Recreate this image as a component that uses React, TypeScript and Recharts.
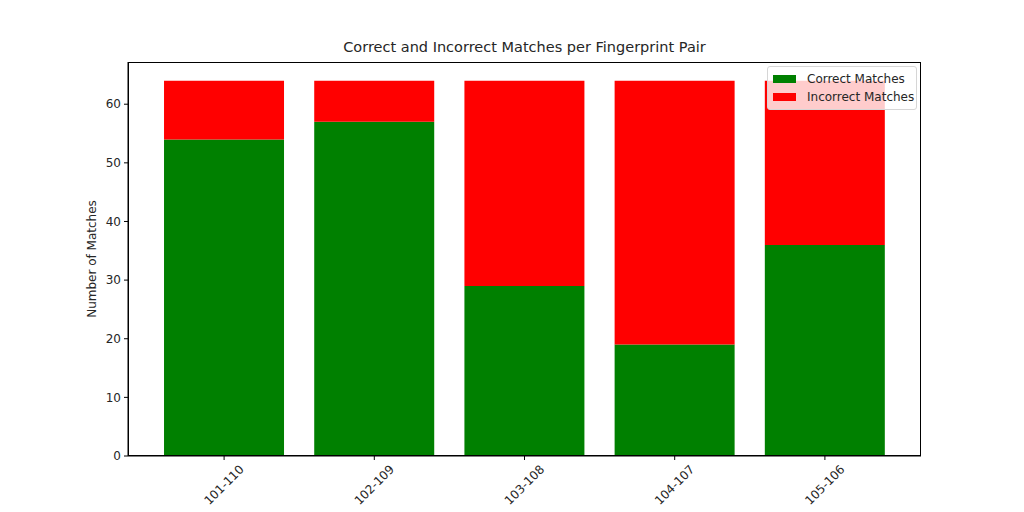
import { BarChart, Bar, XAxis, YAxis } from 'recharts'

const pairs = ['101-110', '102-109', '103-108', '104-107', '105-106']
const correctMatches = [54, 57, 29, 19, 36]
const incorrectMatches = [10, 7, 35, 45, 28]
const yTicks = [0, 10, 20, 30, 40, 50, 60]

const data = pairs.map((pair, i) => ({
  pair,
  correct: correctMatches[i],
  incorrect: incorrectMatches[i],
}))

const FONT = '"DejaVu Sans", sans-serif'
const TEXT = '#262626'

function PairTick({ x, y, payload }: any) {
  return (
    <g transform={`translate(${x},${y + 25})`}>
      <text
        transform="rotate(-45)"
        textAnchor="middle"
        dominantBaseline="central"
        fontSize={12}
        fontFamily={FONT}
        fill={TEXT}
      >
        {payload.value}
      </text>
    </g>
  )
}

function MatchLegend() {
  const items = [
    { label: 'Correct Matches', color: '#008000' },
    { label: 'Incorrect Matches', color: '#ff0000' },
  ]
  return (
    <div
      style={{
        position: 'absolute',
        top: 66,
        left: 767,
        width: 150,
        background: 'rgba(255,255,255,0.8)',
        border: '1px solid #d6d6d6',
        borderRadius: 3,
        padding: '3px 4px 3px 5px',
        fontFamily: FONT,
        fontSize: 12,
        color: TEXT,
        boxSizing: 'border-box',
      }}
    >
      {items.map((it) => (
        <div key={it.label} style={{ display: 'flex', alignItems: 'center', height: 18, whiteSpace: 'nowrap' }}>
          <span style={{ width: 23, height: 8, background: it.color, marginRight: 11, display: 'inline-block', flexShrink: 0 }} />
          <span>{it.label}</span>
        </div>
      ))}
    </div>
  )
}

export default function App() {
  return (
    <div style={{ position: 'absolute', left: 0, top: 0, width: 1024, height: 512, background: '#fff' }}>
      <div
        style={{
          position: 'absolute',
          top: 39,
          left: 128,
          width: 793,
          textAlign: 'center',
          fontFamily: FONT,
          fontSize: 14.5,
          color: TEXT,
        }}
      >
        Correct and Incorrect Matches per Fingerprint Pair
      </div>
      <BarChart
        width={1024}
        height={512}
        data={data}
        margin={{ top: 62, right: 103, bottom: 0, left: 0 }}
        barCategoryGap="10%"
      >
        <XAxis
          dataKey="pair"
          height={56}
          padding={{ left: 21, right: 21 }}
          tickSize={4}
          tickMargin={0}
          tick={<PairTick />}
          axisLine={{ stroke: '#000' }}
          tickLine={{ stroke: '#000' }}
        />
        <YAxis
          width={128}
          domain={[0, 67.2]}
          ticks={yTicks}
          tickSize={4}
          tickMargin={3}
          tick={{ fontSize: 12, fontFamily: FONT, fill: TEXT }}
          axisLine={{ stroke: '#000' }}
          tickLine={{ stroke: '#000' }}
          label={{
            value: 'Number of Matches',
            angle: -90,
            position: 'center',
            dx: 28,
            style: { fontSize: 12, fontFamily: FONT, fill: TEXT, textAnchor: 'middle' },
          }}
        />
        <Bar dataKey="correct" stackId="a" fill="#008000" isAnimationActive={false} />
        <Bar dataKey="incorrect" stackId="a" fill="#ff0000" isAnimationActive={false} />
      </BarChart>
      <div
        style={{
          position: 'absolute',
          left: 128,
          top: 62,
          width: 793,
          height: 394,
          border: '1px solid #000',
          boxSizing: 'border-box',
          pointerEvents: 'none',
        }}
      />
      <MatchLegend />
    </div>
  )
}
